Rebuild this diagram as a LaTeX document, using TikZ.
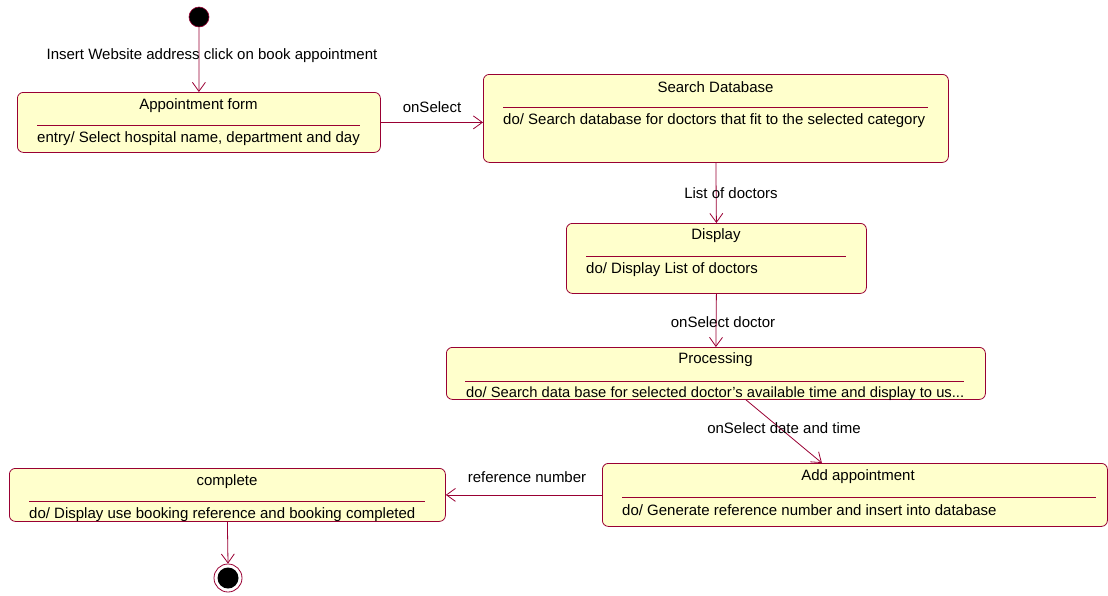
\documentclass[tikz,border=0pt]{standalone}
\usepackage{fontspec}
\setmainfont{Liberation Sans}
\usetikzlibrary{arrows.meta,calc}
\definecolor{umlred}{RGB}{153,0,51}
\definecolor{umlfill}{RGB}{255,255,204}
\begin{document}
\begin{tikzpicture}[x=1pt,y=-1pt,
  every node/.style={font=\fontsize{15}{18}\selectfont, inner sep=0pt},
  statebox/.style={draw=umlred, fill=umlfill, rounded corners=6pt, line width=0.8pt, anchor=north west},
  divider/.style={draw=umlred, line width=0.8pt},
  trans/.style={draw=umlred, line width=0.8pt, -{Straight Barb[length=9pt,width=13pt,line width=0.8pt]}},
  lbl/.style={text=black}
]
\useasboundingbox (0,0) rectangle (1108,595);

% initial state
\node[circle, fill=black, draw=umlred, line width=0.6pt, minimum size=20pt] (init) at (199,17) {};

% Appointment form
\node[statebox, minimum width=363pt, minimum height=60pt] (form) at (17,92) {};
\node (formT) at (198.5,105.5) {Appointment form};
\draw[divider] (37,125) -- (360,125);
\node[anchor=west] (formB) at (37,138.5) {entry/ Select hospital name, department and day};

% Search Database
\node[statebox, minimum width=465pt, minimum height=88pt] (search) at (483,74) {};
\node (searchT) at (715.5,87.5) {Search Database};
\draw[divider] (503,107) -- (928,107);
\node[anchor=west] (searchB) at (503,120.5) {do/ Search database for doctors that fit to the selected category};

% Display
\node[statebox, minimum width=300pt, minimum height=70pt] (disp) at (566,223) {};
\node (dispT) at (716,235.5) {Display};
\draw[divider] (586,256) -- (846,256);
\node[anchor=west] (dispB) at (586,269.5) {do/ Display List of doctors};

% Processing
\node[statebox, minimum width=539pt, minimum height=52pt] (proc) at (446,347) {};
\node (procT) at (715.5,359.5) {Processing};
\draw[divider] (465,381) -- (964,381);
\node[anchor=west] (procB) at (466,393.5) {\resizebox{498pt}{!}{do/ Search data base for selected doctor{\char"27}s available time and display to us...}};

% Add appointment
\node[statebox, minimum width=505pt, minimum height=63pt] (add) at (602,463) {};
\node (addT) at (858,476.5) {Add appointment};
\draw[divider] (622,497) -- (1096,497);
\node[anchor=west] (addB) at (622,510.5) {do/ Generate reference number and insert into database};

% complete
\node[statebox, minimum width=436pt, minimum height=53pt] (comp) at (9,468) {};
\node (compT) at (227,481.5) {complete};
\draw[divider] (29,501) -- (425,501);
\node[anchor=west] (compB) at (29,514.5) {do/ Display use booking reference and booking completed};

% final state
\node[circle, draw=umlred, fill=white, line width=0.8pt, minimum size=28pt] (final) at (228,578) {};
\node[circle, fill=black, minimum size=21pt] (finalIn) at (final.center) {};

% transitions
\draw[trans] (init) -- (form.north);
\node[lbl] (l1) at (212,55.5) {Insert Website address click on book appointment};

\draw[trans] (form.east) -- (form.east -| search.west);
\node[lbl] (l2) at (432,107.5) {onSelect};

\draw[trans] (search.south) -- (disp.north);
\node[lbl] (l3) at (731,193.5) {List of doctors};

\draw[trans] (disp.south) -- (proc.north);
\node[lbl] (l4) at (723,322.5) {onSelect doctor};

\draw[trans] ([xshift=30pt]proc.south) -- ([xshift=-33pt]add.north);
\node[lbl] (l5) at (784,428.5) {onSelect date and time};

\draw[trans] (add.west) -- (comp.east);
\node[lbl] (l6) at (527,477.5) {reference number};

\draw[trans] (comp.south) -- (final.north);
\end{tikzpicture}
\end{document}
